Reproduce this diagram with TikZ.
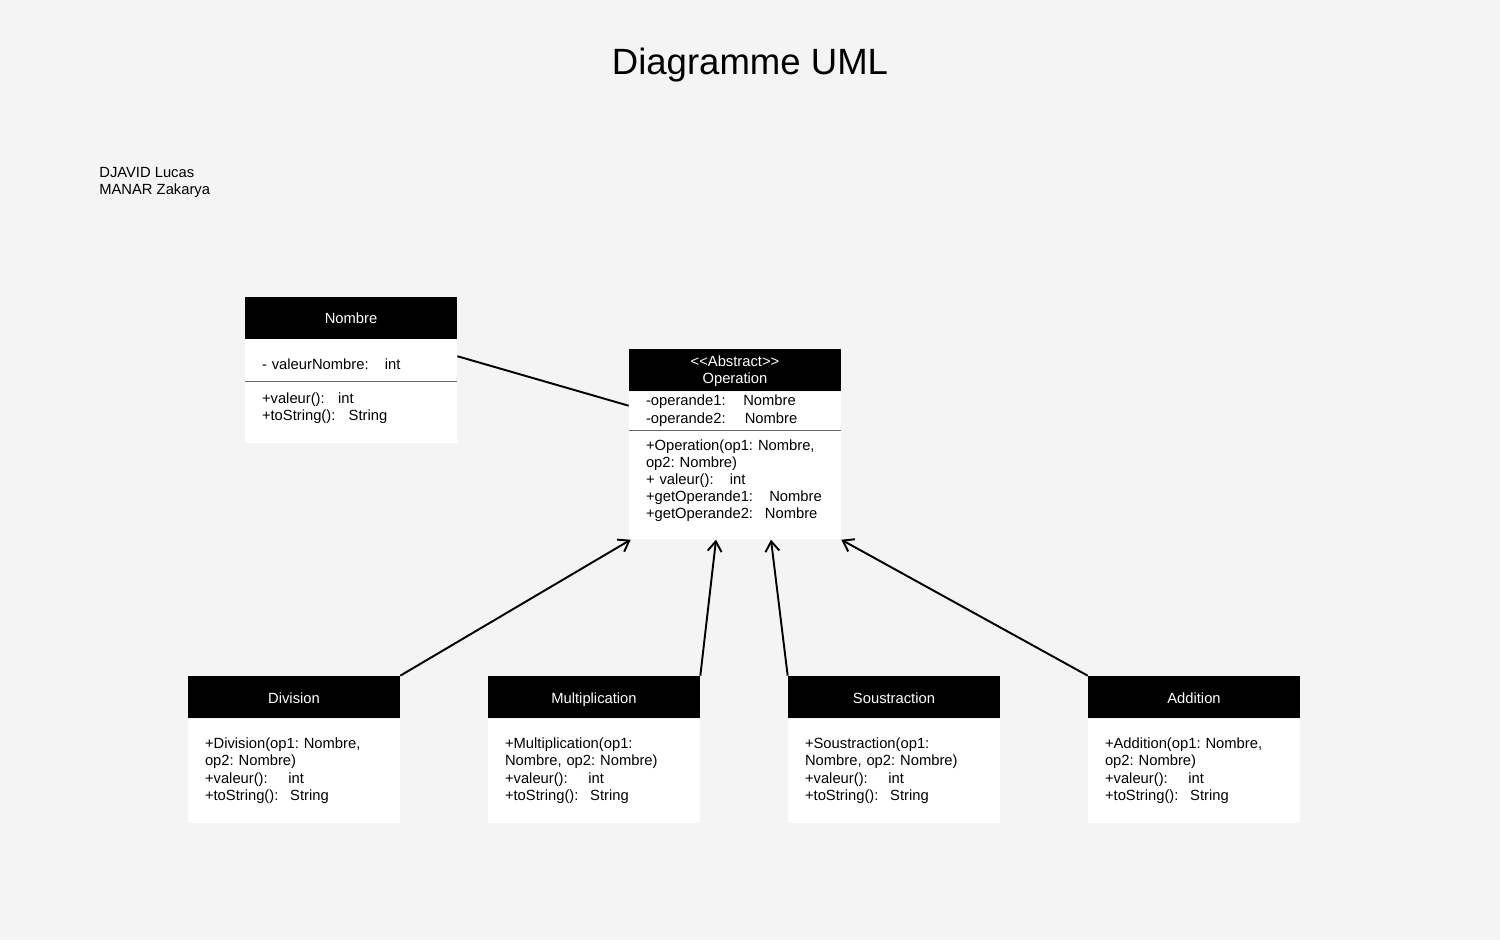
\documentclass[tikz,border=0pt]{standalone}
\usepackage{fontspec}
\setmainfont{Liberation Sans}
\usepackage{tikz}
\usetikzlibrary{arrows.meta,positioning}
\definecolor{umlBack}{HTML}{F4F4F4}
\colorlet{umlRule}{black!60}
\frenchspacing
\tikzset{
  >={Straight Barb[length=2mm,width=2.8mm]},
  % class header: black band with the class name
  classhead/.style={
    fill=black,
    text=white,
    minimum width=4.24cm,
    minimum height=0.84cm,
    inner sep=0pt,
    text height=0.94em,
    text depth=0.22em,
    align=center,
    font=\fontsize{8.4}{9.7}\selectfont
  },
  % class compartment: attributes or methods
  classbody/.style={
    fill=white,
    text width=3.56cm,
    inner xsep=0.34cm,
    inner ysep=0pt,
    align=left,
    font=\fontsize{8.4}{9.7}\selectfont
  },
  sepline/.style={
    draw=umlRule,
    line width=0.6pt
  },
  inherit/.style={
    ->,
    line width=1.1pt,
    draw=black
  },
  assoc/.style={
    line width=1.1pt,
    draw=black
  },
  note/.style={
    font=\fontsize{8.4}{9.7}\selectfont,
    align=left,
    inner sep=0pt
  }
}

\begin{document}
\begin{tikzpicture}[x=0.02cm,y=-0.02cm]

\fill[umlBack] (0,0) rectangle (1500,940);
\useasboundingbox (0,0) rectangle (1500,940);

\node[font=\fontsize{20.8}{25}\selectfont, anchor=base] (title) at (750,74) {Diagramme UML};
\node[note, anchor=north west] (authors) at (99,167) {DJAVID Lucas\\MANAR Zakarya};

% Nombre
\node[classhead] (nombre) at (351,317.5) {Nombre};
\node[classbody, minimum height=0.84cm, text height=0.45cm, text depth=0.06cm, below=0pt of nombre] (nombreattr)
{- valeurNombre:\hspace{1.1em}int};
\node[classbody, minimum height=1.22cm, text depth=0.56cm, below=0pt of nombreattr] (nombremeth)
{+valeur():\hspace{0.9em}int\\+toString():\hspace{0.9em}String};
\draw[sepline] (nombreattr.south west) -- (nombreattr.south east);

% Operation (abstract)
\node[classhead, text height=0.63cm] (operation) at (735,370)
{\textless\kern0pt\textless Abstract\textgreater\kern0pt\textgreater\\Operation};
\node[classbody, minimum height=0.76cm, below=0pt of operation] (opattr)
{-operande1:\hspace{1.2em}Nombre\\-operande2:\hspace{1.3em}Nombre};
\node[classbody, minimum height=2.18cm, text depth=1.59cm, below=0pt of opattr] (opmeth)
{+Operation(op1: Nombre,\\op2: Nombre)\\+ valeur():\hspace{1.1em}int\\+getOperande1:\hspace{1.1em}Nombre\\+getOperande2:\hspace{0.8em}Nombre};
\draw[sepline] (opattr.south west) -- (opattr.south east);

\draw[assoc] ([yshift=0.08cm]nombreattr.east) -- ([yshift=0.1cm]opattr.west);

% subclasses
\node[classhead] (division) at (294,697) {Division};
\node[classbody, minimum height=2.08cm, below=0pt of division] (divisionmeth)
{+Division(op1: Nombre,\\op2: Nombre)\\+valeur():\hspace{1.4em}int\\+toString():\hspace{0.8em}String};

\node[classhead] (multiplication) at (594,697) {Multiplication};
\node[classbody, minimum height=2.08cm, below=0pt of multiplication] (multiplicationmeth)
{+Multiplication(op1:\\Nombre, op2: Nombre)\\+valeur():\hspace{1.4em}int\\+toString():\hspace{0.8em}String};

\node[classhead] (soustraction) at (894,697) {Soustraction};
\node[classbody, minimum height=2.08cm, below=0pt of soustraction] (soustractionmeth)
{+Soustraction(op1:\\Nombre, op2: Nombre)\\+valeur():\hspace{1.4em}int\\+toString():\hspace{0.8em}String};

\node[classhead] (addition) at (1194,697) {Addition};
\node[classbody, minimum height=2.08cm, below=0pt of addition] (additionmeth)
{+Addition(op1: Nombre,\\op2: Nombre)\\+valeur():\hspace{1.4em}int\\+toString():\hspace{0.8em}String};

\draw[inherit] (division.north east) -- ([xshift=0.04cm]opmeth.south west);
\draw[inherit] (multiplication.north east) -- ([xshift=-0.38cm]opmeth.south);
\draw[inherit] (soustraction.north west) -- ([xshift=0.72cm]opmeth.south);
\draw[inherit] (addition.north west) -- (opmeth.south east);

\end{tikzpicture}
\end{document}
